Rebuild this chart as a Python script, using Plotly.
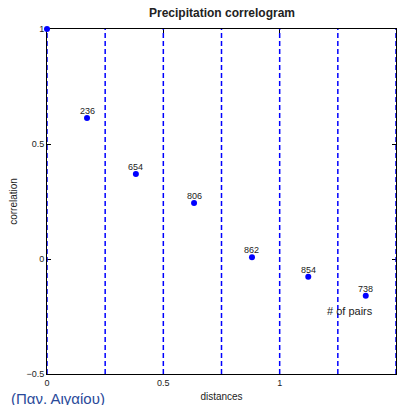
import plotly.graph_objects as go

# Data
lag_x = [0.0, 0.172, 0.382, 0.632, 0.881, 1.123, 1.370]
corr_y = [1.0, 0.613, 0.370, 0.243, 0.008, -0.077, -0.160]
pair_labels = ["", "236", "654", "806", "862", "854", "738"]
bin_edges = [0.0, 0.25, 0.5, 0.75, 1.0, 1.25, 1.5]
x_ticks = [0, 0.5, 1, 1.5]
x_tick_text = ["0", "0.5", "1", "1.5"]
y_ticks = [-0.5, 0, 0.5, 1]
y_tick_text = ["\u22120.5", "0", "0.5", "1"]

FONT = "Liberation Sans, Arial, Helvetica, sans-serif"
BLUE = "rgb(0,0,255)"

fig = go.Figure()

# dashed bin edges
lx, ly = [], []
for e in bin_edges:
    lx += [e, e, None]
    ly += [-0.5, 1.0, None]
fig.add_trace(go.Scatter(x=lx, y=ly, mode="lines",
                         line=dict(color=BLUE, width=1.5, dash="5px,3px"),
                         hoverinfo="skip", showlegend=False))

fig.add_trace(go.Scatter(x=lag_x, y=corr_y, mode="markers",
                         marker=dict(color=BLUE, size=6),
                         cliponaxis=False, showlegend=False))

for xv, yv, lab in zip(lag_x, corr_y, pair_labels):
    if lab:
        fig.add_annotation(x=xv, y=yv, xref="x", yref="y", text=lab,
                           showarrow=False, yanchor="middle", yshift=7,
                           font=dict(family=FONT, size=9, color="#222"))

fig.add_annotation(x=1.302, y=-0.226, xref="x", yref="y", text="# of pairs",
                   showarrow=False, font=dict(family=FONT, size=11, color="#222"))

fig.add_annotation(x=0.5, y=1, xref="paper", yref="paper", yshift=7,
                   text="<b>Precipitation correlogram</b>", showarrow=False,
                   xanchor="center", yanchor="bottom",
                   font=dict(family=FONT, size=12, color="#222"))

fig.add_annotation(x=(107 - 47) / 349, y=-0.07, xref="paper", yref="paper",
                   showarrow=False, xanchor="right", yanchor="middle",
                   text="(\u03a0\u03b1\u03bd. \u0391\u03b9\u03b3\u03b1\u03af\u03bf\u03c5)",
                   font=dict(family=FONT, size=15, color="#2a4a9a"))

fig.update_layout(
    width=400, height=405,
    margin=dict(l=47, r=4, t=29, b=31),
    paper_bgcolor="white", plot_bgcolor="white",
    font=dict(family=FONT, size=9, color="#222"),
    xaxis=dict(range=[0, 1.5], tickvals=x_ticks, ticktext=x_tick_text,
               showline=True, linecolor="black", linewidth=1, mirror="ticks",
               ticks="inside", ticklen=4, tickcolor="black", showgrid=False,
               zeroline=False, layer="below traces",
               title=dict(text="distances", standoff=6, font=dict(size=10))),
    yaxis=dict(range=[-0.5, 1], tickvals=y_ticks, ticktext=y_tick_text,
               showline=True, linecolor="black", linewidth=1, mirror="ticks",
               ticks="inside", ticklen=4, tickcolor="black", showgrid=False,
               zeroline=False, layer="below traces",
               title=dict(text="correlation", standoff=6, font=dict(size=10))),
)

fig.write_html("out.html")
